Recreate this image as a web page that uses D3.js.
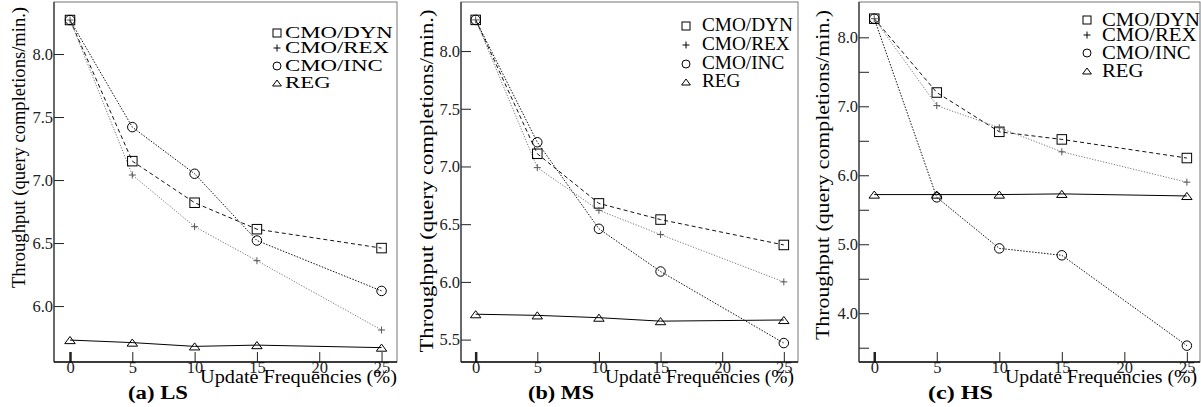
<!DOCTYPE html>
<html>
<head>
<meta charset="utf-8">
<script src="https://cdn.jsdelivr.net/npm/d3@7"></script>
<style>
  html, body { margin: 0; padding: 0; background: #fff; }
  svg { display: block; }
  svg text { font-family: "Liberation Serif", "Times New Roman", Times, serif; }
</style>
</head>
<body>
<div id="chart"></div>
<script>
// x values (update frequency %) and tick labels
const updateFreq = [0, 5, 10, 15, 25];
const xTicks = [0, 5, 10, 15, 20, 25];
const seriesNames = ["CMO/DYN", "CMO/REX", "CMO/INC", "REG"];

// (a) LS
const lsDYN = [8.27, 7.15, 6.82, 6.61, 6.46];
const lsREX = [8.27, 7.04, 6.63, 6.36, 5.81];
const lsINC = [8.27, 7.42, 7.05, 6.52, 6.12];
const lsREG = [5.73, 5.71, 5.68, 5.69, 5.67];
const lsTicks = [6.0, 6.5, 7.0, 7.5, 8.0];

// (b) MS
const msDYN = [8.27, 7.11, 6.68, 6.54, 6.32];
const msREX = [8.27, 6.99, 6.62, 6.41, 6.00];
const msINC = [8.27, 7.21, 6.46, 6.09, 5.47];
const msREG = [5.72, 5.71, 5.69, 5.66, 5.67];
const msTicks = [5.5, 6.0, 6.5, 7.0, 7.5, 8.0];

// (c) HS
const hsDYN = [8.27, 7.20, 6.63, 6.52, 6.25];
const hsREX = [8.27, 7.01, 6.69, 6.34, 5.90];
const hsINC = [8.27, 5.68, 4.94, 4.84, 3.53];
const hsREG = [5.72, 5.72, 5.72, 5.73, 5.70];
const hsTicks = [4.0, 5.0, 6.0, 7.0, 8.0];
const hsMinor = [3.5, 4.5, 5.5, 6.5, 7.5];

// layout of each panel
const panels = [
  { caption: "(a) LS", series: [lsDYN, lsREX, lsINC, lsREG], yTicks: lsTicks, yMinor: [],
    left: 54, right: 397, top: 2, bottom: 362, xDomain: [-1.284, 26.24], yDomain: [5.556, 8.413],
    yLab: { x: 19, y: 147.5, len: 281 }, xLab: { x: 397, len: 197 }, cap: { x: 128, len: 60 },
    leg: { sx: 277, tx: 285, rows: [32, 47, 65, 82], fs: 17, w: 108 } },
  { caption: "(b) MS", series: [msDYN, msREX, msINC, msREG], yTicks: msTicks, yMinor: [],
    left: 461, right: 798, top: 2, bottom: 362, xDomain: [-1.19, 26.15], yDomain: [5.306, 8.425],
    yLab: { x: 427, y: 181, len: 343 }, xLab: { x: 794, len: 189 }, cap: { x: 528, len: 66 },
    leg: { sx: 686, tx: 702, rows: [25, 44, 63, 81], fs: 18, w: 91 } },
  { caption: "(c) HS", series: [hsDYN, hsREX, hsINC, hsREG], yTicks: hsTicks, yMinor: hsMinor,
    left: 859, right: 1200, top: 2, bottom: 362, xDomain: [-1.22, 26.05], yDomain: [3.293, 8.512],
    yLab: { x: 823, y: 175, len: 330 }, xLab: { x: 1197, len: 192 }, cap: { x: 928, len: 65 },
    leg: { sx: 1087, tx: 1102, rows: [19, 34, 52, 70], fs: 19, w: 98 } }
];

const lineStyle = [
  { dash: "4,3", stroke: "#111", width: 1 },
  { dash: "1.2,1.6", stroke: "#777", width: 1 },
  { dash: "1.5,1.5", stroke: "#111", width: 1 },
  { dash: null, stroke: "#000", width: 1 }
];

const width = 1201, height = 407;
const svg = d3.select("#chart").append("svg")
  .attr("width", width).attr("height", height);

function drawMarker(g, kind, cx, cy, s, color) {
  if (kind === 0) {
    g.append("rect").attr("x", cx - s / 2).attr("y", cy - s / 2)
      .attr("width", s).attr("height", s)
      .attr("fill", "none").attr("stroke", color).attr("stroke-width", 1);
  } else if (kind === 1) {
    const h = s / 2;
    g.append("path").attr("d", `M${cx - h},${cy}H${cx + h}M${cx},${cy - h}V${cy + h}`)
      .attr("stroke", color).attr("stroke-width", 1).attr("fill", "none");
  } else if (kind === 2) {
    g.append("circle").attr("cx", cx).attr("cy", cy).attr("r", s / 2)
      .attr("fill", "none").attr("stroke", color).attr("stroke-width", 1);
  } else {
    const w = s * 1.1, h = s * 0.75;
    g.append("path").attr("d", `M${cx - w / 2},${cy + h / 2}L${cx},${cy - h / 2}L${cx + w / 2},${cy + h / 2}Z`)
      .attr("fill", "none").attr("stroke", color).attr("stroke-width", 1);
  }
}

panels.forEach(p => {
  const g = svg.append("g");
  const x = d3.scaleLinear().domain(p.xDomain).range([p.left, p.right]);
  const y = d3.scaleLinear().domain(p.yDomain).range([p.bottom, p.top]);

  // frame
  g.append("rect")
    .attr("x", p.left).attr("y", p.top)
    .attr("width", p.right - p.left).attr("height", p.bottom - p.top)
    .attr("fill", "none").attr("stroke", "#777").attr("stroke-width", 1);

  // y axis
  const ya = g.append("g")
    .attr("transform", `translate(${p.left},0)`)
    .call(d3.axisLeft(y).tickValues(p.yTicks).tickFormat(d3.format(".1f"))
      .tickSizeInner(-10).tickSizeOuter(0).tickPadding(1))
    .call(a => a.select(".domain").remove());
  if (p.yMinor.length) {
    g.append("g")
      .attr("transform", `translate(${p.left},0)`)
      .call(d3.axisLeft(y).tickValues(p.yMinor).tickFormat("").tickSizeInner(-10).tickSizeOuter(0))
      .call(a => a.select(".domain").remove())
      .selectAll("line").attr("stroke", "#222");
  }
  ya.attr("font-family", null);
  ya.selectAll("text").attr("font-size", 16.5).attr("fill", "#222");
  ya.selectAll("line").attr("stroke", "#222");

  // x axis
  const xa = g.append("g")
    .attr("transform", `translate(0,${p.bottom})`)
    .call(d3.axisBottom(x).tickValues(xTicks).tickSizeInner(-10).tickSizeOuter(0).tickPadding(0))
    .call(a => a.select(".domain").remove());
  xa.attr("font-family", null);
  xa.selectAll("text").attr("font-size", 16.5).attr("fill", "#222").attr("dy", "0.66em");
  xa.selectAll("line").attr("stroke", "#222")
    .attr("stroke-width", d => d === 0 ? 2.5 : 1);

  g.append("line").attr("x1", p.left).attr("x2", p.left).attr("y1", p.top).attr("y2", p.bottom)
    .attr("stroke", "#333").attr("stroke-width", 1.2);
  g.append("line").attr("x1", p.left).attr("x2", p.right).attr("y1", p.bottom).attr("y2", p.bottom)
    .attr("stroke", "#111").attr("stroke-width", 1.5);

  // lines
  const line = d3.line().x((d, i) => x(updateFreq[i])).y(d => y(d));
  p.series.forEach((vals, k) => {
    const st = lineStyle[k];
    g.append("path").datum(vals)
      .attr("d", line)
      .attr("fill", "none")
      .attr("stroke", st.stroke)
      .attr("stroke-width", st.width)
      .attr("stroke-dasharray", st.dash);
  });

  // markers
  p.series.forEach((vals, k) => {
    vals.forEach((v, i) => {
      drawMarker(g, k, x(updateFreq[i]), y(v), k === 1 ? 7 : 9.5, k === 1 ? "#555" : "#000");
    });
  });

  // legend
  seriesNames.forEach((name, k) => {
    const cy = p.leg.rows[k];
    drawMarker(g, k, p.leg.sx, cy + 1, k === 1 ? 7 : 8, "#000");
    g.append("text")
      .attr("x", p.leg.tx).attr("y", cy)
      .attr("dy", "0.35em")
      .attr("font-size", p.leg.fs)
      .attr("class", "leg")
      .text(name);
  });
  // stretch legend text horizontally to the reference width
  const legTexts = g.selectAll("text.leg");
  const natural = legTexts.nodes()[0].getComputedTextLength();
  const sx = p.leg.w / natural;
  legTexts.attr("transform", `translate(${p.leg.tx},0) scale(${sx},1) translate(${-p.leg.tx},0)`);

  // y axis title
  g.append("text")
    .attr("transform", `translate(${p.yLab.x},${p.yLab.y}) rotate(-90)`)
    .attr("text-anchor", "middle")
    .attr("dy", "0.32em")
    .attr("font-size", 19)
    .attr("textLength", p.yLab.len)
    .attr("lengthAdjust", "spacingAndGlyphs")
    .text("Throughput (query completions/min.)");

  // x axis title
  g.append("text")
    .attr("x", p.xLab.x - p.xLab.len).attr("y", 383)
    .attr("font-size", 18)
    .attr("textLength", p.xLab.len)
    .attr("lengthAdjust", "spacingAndGlyphs")
    .text("Update Frequencies (%)");

  // caption
  g.append("text")
    .attr("x", p.cap.x).attr("y", 399)
    .attr("font-size", 18.5)
    .attr("font-weight", "bold")
    .attr("textLength", p.cap.len)
    .attr("lengthAdjust", "spacingAndGlyphs")
    .text(p.caption);
});
</script>
</body>
</html>
